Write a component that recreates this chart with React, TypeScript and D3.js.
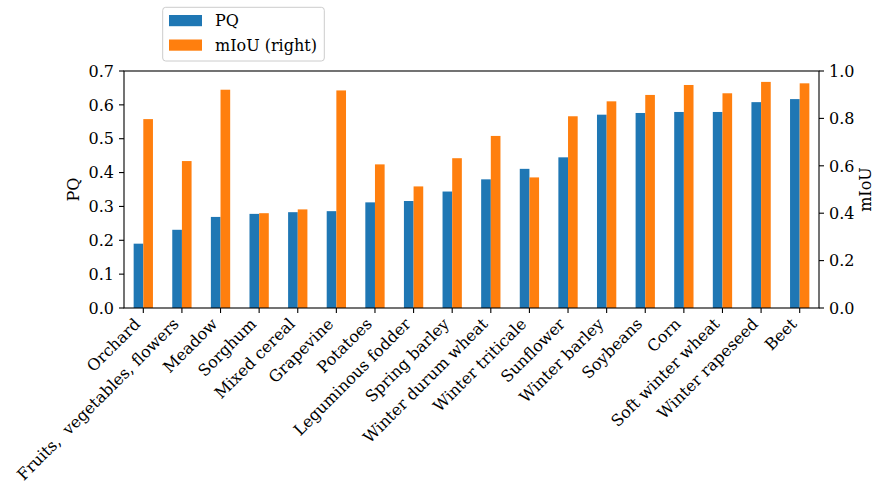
import React from 'react';
import * as d3 from 'd3';

const categories: string[] = [
  'Orchard',
  'Fruits,  vegetables, flowers',
  'Meadow',
  'Sorghum',
  'Mixed cereal',
  'Grapevine',
  'Potatoes',
  'Leguminous fodder',
  'Spring barley',
  'Winter durum wheat',
  'Winter triticale',
  'Sunflower',
  'Winter barley',
  'Soybeans',
  'Corn',
  'Soft winter wheat',
  'Winter rapeseed',
  'Beet',
];

const pqValues: number[] = [
  0.19, 0.231, 0.269, 0.278, 0.283, 0.286, 0.312, 0.316, 0.344, 0.38, 0.411,
  0.445, 0.571, 0.576, 0.579, 0.579, 0.608, 0.617,
];

const miouValues: number[] = [
  0.797, 0.62, 0.921, 0.4, 0.416, 0.918, 0.606, 0.513, 0.632, 0.726, 0.551,
  0.809, 0.872, 0.899, 0.941, 0.906, 0.954, 0.948,
];

const leftTicks: number[] = [0, 0.1, 0.2, 0.3, 0.4, 0.5, 0.6, 0.7];
const rightTicks: number[] = [0, 0.2, 0.4, 0.6, 0.8, 1.0];
const seriesNames: string[] = ['PQ', 'mIoU (right)'];

const W = 876;
const H = 485;
const L = 124;
const R = 819;
const T = 71;
const B = 308;
const FONT = 'DejaVu Serif';
const FS = 16;
const TICK = 5;
const PAD = 5;
const BLUE = '#1f77b4';
const ORANGE = '#ff7f0e';

export default function App() {
  const x = d3.scaleLinear().domain([-0.5, categories.length - 0.5]).range([L, R]);
  const yL = d3.scaleLinear().domain([0, 0.7]).range([B, T]);
  const yR = d3.scaleLinear().domain([0, 1.0]).range([B, T]);
  const fmt = d3.format('.1f');
  const bw = 0.25;

  return (
    <svg
      width={W}
      height={H}
      style={{ position: 'absolute', left: 0, top: 0, background: '#fff' }}
      fontFamily={FONT}
    >
      <rect x={0} y={0} width={W} height={H} fill="#fff" />
      {categories.map((c, i) => (
        <g key={c}>
          <rect
            x={x(i - bw)}
            width={x(i) - x(i - bw)}
            y={yL(pqValues[i])}
            height={yL(0) - yL(pqValues[i])}
            fill={BLUE}
          />
          <rect
            x={x(i)}
            width={x(i + bw) - x(i)}
            y={yR(miouValues[i])}
            height={yR(0) - yR(miouValues[i])}
            fill={ORANGE}
          />
        </g>
      ))}
      {/* frame */}
      <rect x={L} y={T} width={R - L} height={B - T} fill="none" stroke="#000" strokeWidth={1.1} />
      {/* left ticks */}
      {leftTicks.map((t) => (
        <g key={'l' + t}>
          <line x1={L - TICK} x2={L} y1={yL(t)} y2={yL(t)} stroke="#000" strokeWidth={1.1} />
          <text x={L - TICK - PAD} y={yL(t)} dy="0.36em" textAnchor="end" fontSize={FS}>
            {fmt(t)}
          </text>
        </g>
      ))}
      {/* right ticks */}
      {rightTicks.map((t) => (
        <g key={'r' + t}>
          <line x1={R} x2={R + TICK} y1={yR(t)} y2={yR(t)} stroke="#000" strokeWidth={1.1} />
          <text x={R + TICK + PAD} y={yR(t)} dy="0.36em" textAnchor="start" fontSize={FS}>
            {fmt(t)}
          </text>
        </g>
      ))}
      {/* x ticks */}
      {categories.map((c, i) => (
        <g key={'x' + c}>
          <line x1={x(i)} x2={x(i)} y1={B} y2={B + TICK} stroke="#000" strokeWidth={1.1} />
          <text
            transform={`translate(${x(i) - 2},${B + 17}) rotate(-45)`}
            textAnchor="end"
            fontSize={FS}
            style={{ whiteSpace: 'pre' }}
          >
            {c}
          </text>
        </g>
      ))}
      {/* axis labels */}
      <text
        transform={`translate(${79},${(T + B) / 2}) rotate(-90)`}
        textAnchor="middle"
        fontSize={FS}
      >
        PQ
      </text>
      <text
        transform={`translate(${871},${(T + B) / 2}) rotate(-90)`}
        textAnchor="middle"
        fontSize={FS}
      >
        mIoU
      </text>
      {/* legend */}
      <rect x={162.7} y={7.3} width={161.6} height={53.7} rx={3} fill="#fff" fillOpacity={0.8} stroke="#cccccc" />
      {seriesNames.map((s, i) => (
        <g key={s}>
          <rect x={169} y={15 + i * 24.5} width={33} height={11.2} fill={i === 0 ? BLUE : ORANGE} />
          <text x={215} y={20.6 + i * 24.5} dy="0.36em" fontSize={FS}>
            {s}
          </text>
        </g>
      ))}
    </svg>
  );
}
